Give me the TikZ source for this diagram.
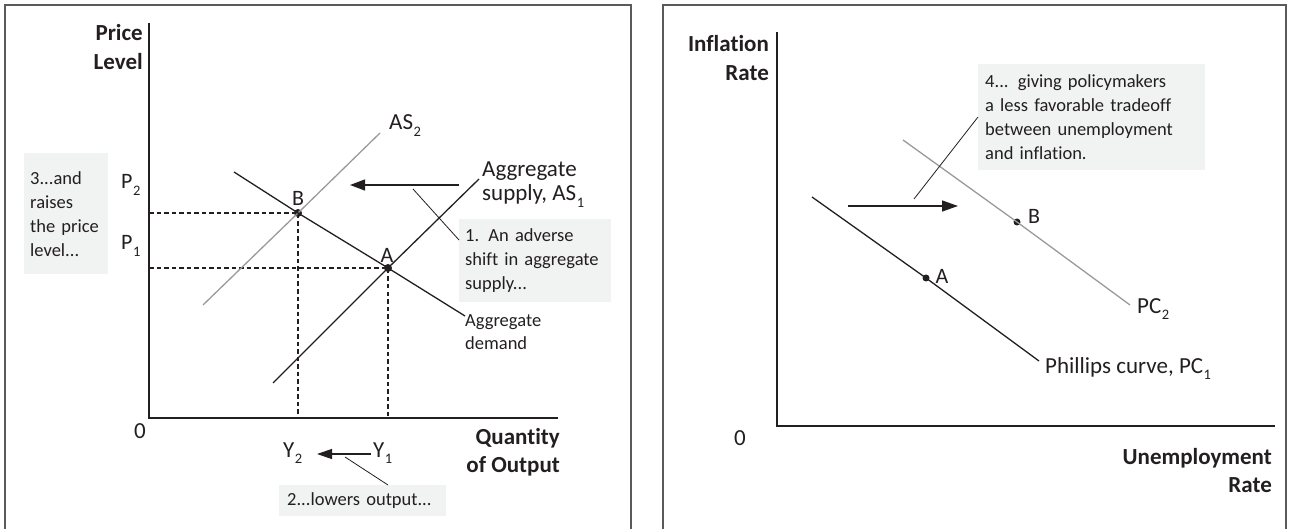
\documentclass[tikz,border=0pt]{standalone}
\usepackage{fontspec}
\setmainfont{Carlito}[Ligatures={NoCommon}]
\usetikzlibrary{arrows.meta}
\definecolor{ink}{HTML}{231F20}
\definecolor{boxgray}{HTML}{F1F2F2}
\definecolor{framegray}{HTML}{5A5A5A}
\definecolor{curvegray}{HTML}{9A9A9A}
\newcommand{\lsub}[1]{\kern0.5pt\raisebox{-0.28em}{\fontsize{14.5}{14.5}\selectfont#1}}
\newcommand{\bigfont}{\fontsize{23}{24}\selectfont}
\newcommand{\axfont}{\bfseries\fontsize{23}{28.5}\selectfont}
\newcommand{\notefont}{\fontsize{18.5}{24}\selectfont}
\newcommand{\ptfont}{\fontsize{22}{24}\selectfont}
\begin{document}
\begin{tikzpicture}[x=1pt,y=-1pt,
  every node/.style={text=ink, inner sep=0pt},
  frame/.style={draw=framegray, line width=1.4pt},
  axis/.style={draw=ink, line width=2.7pt},
  curve/.style={draw=ink, line width=1.3pt},
  newcurve/.style={draw=curvegray, line width=1.3pt},
  guide/.style={draw=ink, line width=1.2pt, dash pattern=on 4.5pt off 3pt},
  leader/.style={draw=ink, line width=0.8pt},
  shiftarrow/.style={draw=ink, line width=1.3pt, -{Triangle[length=15pt,width=11pt]}},
  dot/.style={circle, fill=ink, minimum size=8pt},
  smalldot/.style={circle, fill=ink, minimum size=7pt},
  note/.style={fill=boxgray, anchor=north west, align=left, inner xsep=6pt, inner ysep=0pt, font=\notefont},
  axlabel/.style={align=right, font=\axfont},
  biglabel/.style={font=\bigfont},
  ptlabel/.style={font=\ptfont}]
\useasboundingbox (0,0) rectangle (1290,529);

% ---------- frames ----------
\draw[frame] (5,529) -- (5,5) -- (631,5) -- (631,529);
\draw[frame] (663,529) -- (663,5) -- (1286,5) -- (1286,529);

% ================= LEFT PANEL =================
\coordinate (O) at (149,418);
\coordinate (ytop) at (149,23);
\coordinate (xend) at (558,418);
\draw[axis] (ytop) -- (O) -- (xend);

\node[axlabel, anchor=east] (ylab) at (143,47) {Price\\Level};
\node[axlabel, anchor=east] (xlab) at (560,452) {Quantity\\of Output};
\node[biglabel] (zero) at (140,431) {0};

\node[dot] (B) at (298,213) {};
\node[dot] (A) at (388,268) {};

% dashed guides
\draw[guide] (O |- B) -- (B.center) -- (B |- O);
\draw[guide] (O |- A) -- (A.center) -- (A |- O);

% AS2 (shifted, gray)
\coordinate (as2a) at (203,305);
\coordinate (as2b) at (380,133);
\draw[newcurve] (as2a) -- (B.center) -- (as2b);
% AS1
\coordinate (as1a) at (273,383);
\coordinate (as1b) at (479,179);
\draw[curve] (as1a) -- (A.center) -- (as1b);
% AD
\coordinate (ada) at (234,172);
\coordinate (adb) at (465,316);
\draw[curve] (ada) -- (B.center) -- (A.center) -- (adb);

\node[ptlabel] (Blab) at (298,198) {B};
\node[ptlabel] (Alab) at (387,255) {A};
\node[biglabel, anchor=base west] (AS2lab) at (389,130) {AS\lsub{2}};
\node[biglabel, anchor=west, align=left] (AS1lab) at (482,184.5) {Aggregate\\supply, AS\lsub{1}};
\node[anchor=west, align=left, font=\fontsize{18.5}{23}\selectfont] (ADlab) at (465,332.5) {Aggregate\\demand};
\node[ptlabel, anchor=base west] (P2) at (121,189) {P\lsub{2}};
\node[ptlabel, anchor=base west] (P1) at (121,250) {P\lsub{1}};
\node[biglabel, anchor=base west] (Y2) at (283,457) {Y\lsub{2}};
\node[biglabel, anchor=base west] (Y1) at (373,457) {Y\lsub{1}};

% shift arrow
\coordinate (sa) at (459,185);
\coordinate (sb) at (350,185);
\draw[shiftarrow] (sa) -- (sb);
% output arrow
\coordinate (ya) at (371,454);
\coordinate (yb) at (317,454);
\draw[shiftarrow, {-Triangle[length=15pt,width=10pt]}] (ya) -- (yb);

% notes
\node[note, text width=72pt, minimum height=121pt] (n3) at (24,153) {3...and\\raises\\the price\\level...};
\node[note, text width=140pt, minimum height=83pt] (n1) at (459,219) {1. An adverse\\shift in aggregate\\supply...};
\node[note, inner xsep=8pt, text width=151pt, minimum height=31pt] (n2) at (279,485) {2...lowers output...};

\coordinate (l1a) at (413,189);
\coordinate (l1b) at (459,240);
\draw[leader] (l1a) -- (l1b);
\coordinate (l2a) at (345,457);
\coordinate (l2b) at (388,485);
\draw[leader] (l2a) -- (l2b);

% ================= RIGHT PANEL =================
\coordinate (O2) at (777,426);
\coordinate (ytop2) at (777,32);
\coordinate (xend2) at (1275,426);
\draw[axis] (ytop2) -- (O2) -- (xend2);

\node[axlabel, anchor=east] (ylab2) at (769,58) {Inflation\\Rate};
\node[axlabel, anchor=east] (xlab2) at (1272,470.5) {Unemployment\\Rate};
\node[biglabel] (zero2) at (740,438) {0};

\node[smalldot] (A2) at (926,278) {};
\node[smalldot] (B2) at (1017,222) {};

\coordinate (pc1a) at (812,197);
\coordinate (pc1b) at (1039,361);
\draw[curve] (pc1a) -- (A2.center) -- (pc1b);
\coordinate (pc2a) at (903,140);
\coordinate (pc2b) at (1130,305);
\draw[newcurve] (pc2a) -- (B2.center) -- (pc2b);

\node[ptlabel] (A2lab) at (942,276) {A};
\node[ptlabel] (B2lab) at (1034,216) {B};
\node[biglabel, anchor=base west] (PC2lab) at (1137,313) {PC\lsub{2}};
\node[biglabel, anchor=base west] (PC1lab) at (1045,373) {Phillips curve, PC\lsub{1}};

\coordinate (pa) at (848,206);
\coordinate (pb) at (958,206);
\draw[shiftarrow, {-Triangle[length=16pt,width=11pt]}] (pa) -- (pb);

\node[note, inner xsep=7pt, text width=213pt, minimum height=106pt] (n4) at (978,64) {4... giving policymakers\\a less favorable tradeoff\\between unemployment\\and inflation.};
\coordinate (l4a) at (914,199);
\coordinate (l4b) at (978,117);
\draw[leader] (l4a) -- (l4b);
\end{tikzpicture}
\end{document}
